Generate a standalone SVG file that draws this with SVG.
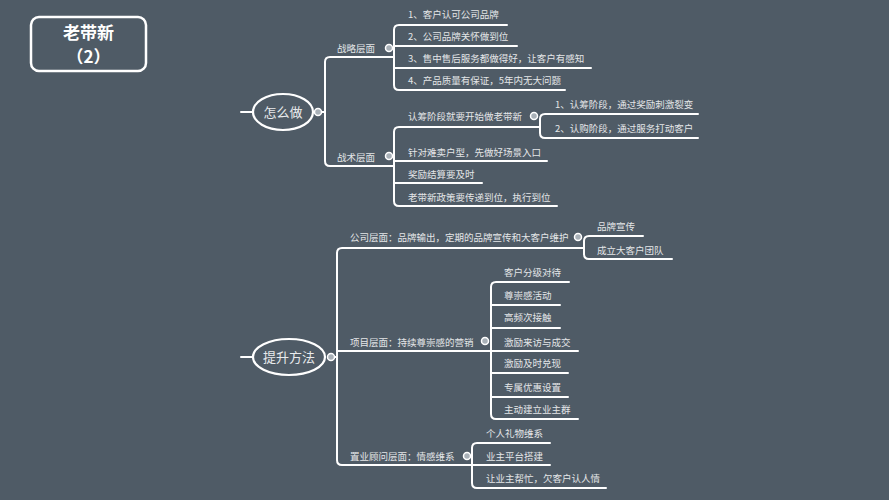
<svg xmlns="http://www.w3.org/2000/svg" width="889" height="500" viewBox="0 0 889 500">
<style>
.bg{fill:#4f5b66}
.ln{fill:none;stroke:#ffffff;stroke-width:2;stroke-linecap:round;stroke-linejoin:round}
.t{font-family:"Noto Sans CJK SC","Noto Sans",sans-serif;font-size:9.5px;fill:#e4e6e8}
.big{font-family:"Noto Sans CJK SC","Noto Sans",sans-serif;font-size:13px;fill:#e8eaec;text-anchor:middle}
.title{font-family:"Noto Sans CJK SC","Noto Sans",sans-serif;font-size:17px;font-weight:bold;fill:#ffffff;text-anchor:middle}
.dot{fill:#a9b1b8;stroke:#ffffff;stroke-width:1.5}
.ell{fill:none;stroke:#ffffff;stroke-width:2.2}
</style>
<rect class="bg" x="0" y="0" width="889" height="500"/>
<g id="title">
<rect x="31" y="17" width="115" height="54" rx="8" fill="none" stroke="#ffffff" stroke-width="2.5"/>
<text class="title" x="88.5" y="38.5">老带新</text>
<text class="title" x="88.5" y="63">（2）</text>
</g>
<g id="connectors">
<path class="ln" d="M241 112 H253"/>
<path class="ln" d="M321 112 H325"/>
<path class="ln" d="M394 57 H330 Q325 57 325 62 V161 Q325 166 330 166 H394"/>
<path class="ln" d="M507 25 H399 Q394 25 394 30 V85 Q394 90 399 90 H565"/>
<path class="ln" d="M394 46 H517"/>
<path class="ln" d="M394 68 H591"/>
<path class="ln" d="M540 127 H399 Q394 127 394 132 V201 Q394 206 399 206 H557"/>
<path class="ln" d="M394 161 H547"/>
<path class="ln" d="M394 183 H482"/>
<path class="ln" d="M698 114 H545 Q540 114 540 119 V133 Q540 138 545 138 H698"/>
<path class="ln" d="M241 357 H253"/>
<path class="ln" d="M334 357 H337"/>
<path class="ln" d="M584 248 H342 Q337 248 337 253 V460 Q337 465 342 465 H550"/>
<path class="ln" d="M337 351 H578"/>
<path class="ln" d="M643 236 H589 Q584 236 584 241 V254 Q584 259 589 259 H672"/>
<path class="ln" d="M569 282 H496 Q491 282 491 287 V414 Q491 419 496 419 H578"/>
<path class="ln" d="M491 305 H560"/>
<path class="ln" d="M491 328 H560"/>
<path class="ln" d="M491 373 H568"/>
<path class="ln" d="M491 397 H568"/>
<path class="ln" d="M550 443 H477 Q472 443 472 448 V483 Q472 488 477 488 H606"/>
</g>
<g id="n-zenmezuo">
<ellipse class="ell" cx="283" cy="112" rx="30" ry="18"/>
<text class="big" x="283" y="116.5">怎么做</text>
<circle class="dot" cx="318" cy="112" r="3.5"/>
</g>
<g id="n-zhanlue">
<text class="t" x="337" y="51.5">战略层面</text>
<circle class="dot" cx="389" cy="48" r="3.5"/>
</g>
<g id="n-s1"><text class="t" x="408" y="17.5">1、客户认可公司品牌</text></g>
<g id="n-s2"><text class="t" x="408" y="39.5">2、公司品牌关怀做到位</text></g>
<g id="n-s3"><text class="t" x="408" y="61.5">3、售中售后服务都做得好，让客户有感知</text></g>
<g id="n-s4"><text class="t" x="408" y="84">4、产品质量有保证，5年内无大问题</text></g>
<g id="n-zhanshu">
<text class="t" x="337" y="160.5">战术层面</text>
<circle class="dot" cx="389" cy="156" r="3.5"/>
</g>
<g id="n-t1">
<text class="t" x="408" y="119.5">认筹阶段就要开始做老带新</text>
<circle class="dot" cx="534" cy="116" r="3.5"/>
</g>
<g id="n-t1a"><text class="t" x="555" y="108">1、认筹阶段，通过奖励刺激裂变</text></g>
<g id="n-t1b"><text class="t" x="555" y="131.5">2、认购阶段，通过服务打动客户</text></g>
<g id="n-t2"><text class="t" x="408" y="155.5">针对难卖户型，先做好场景入口</text></g>
<g id="n-t3"><text class="t" x="408" y="177.5">奖励结算要及时</text></g>
<g id="n-t4"><text class="t" x="408" y="200.5">老带新政策要传递到位，执行到位</text></g>
<g id="n-tisheng">
<ellipse class="ell" cx="289" cy="357" rx="36" ry="18"/>
<text class="big" x="289" y="361.5">提升方法</text>
<circle class="dot" cx="331" cy="357" r="3.5"/>
</g>
<g id="n-gongsi">
<text class="t" x="350" y="240.5">公司层面：品牌输出，定期的品牌宣传和大客户维护</text>
<circle class="dot" cx="578" cy="237" r="3.5"/>
</g>
<g id="n-g1"><text class="t" x="597" y="229.5">品牌宣传</text></g>
<g id="n-g2"><text class="t" x="597" y="253.5">成立大客户团队</text></g>
<g id="n-xiangmu">
<text class="t" x="350" y="345.5">项目层面：持续尊崇感的营销</text>
<circle class="dot" cx="485" cy="341" r="3.5"/>
</g>
<g id="n-x1"><text class="t" x="504" y="275.5">客户分级对待</text></g>
<g id="n-x2"><text class="t" x="504" y="298.5">尊崇感活动</text></g>
<g id="n-x3"><text class="t" x="504" y="320.5">高频次接触</text></g>
<g id="n-x4"><text class="t" x="504" y="345.5">激励来访与成交</text></g>
<g id="n-x5"><text class="t" x="504" y="366.5">激励及时兑现</text></g>
<g id="n-x6"><text class="t" x="504" y="390.5">专属优惠设置</text></g>
<g id="n-x7"><text class="t" x="504" y="412.5">主动建立业主群</text></g>
<g id="n-zhiye">
<text class="t" x="350" y="459.5">置业顾问层面：情感维系</text>
<circle class="dot" cx="467" cy="456" r="3.5"/>
</g>
<g id="n-z1"><text class="t" x="486" y="436.5">个人礼物维系</text></g>
<g id="n-z2"><text class="t" x="486" y="459.5">业主平台搭建</text></g>
<g id="n-z3"><text class="t" x="486" y="481.5">让业主帮忙，欠客户认人情</text></g>
</svg>
